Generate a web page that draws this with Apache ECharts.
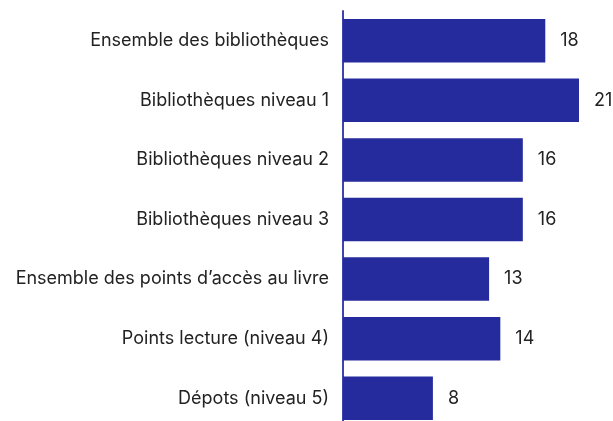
<!DOCTYPE html>
<html>
<head>
<meta charset="utf-8">
<script src="https://cdn.jsdelivr.net/npm/echarts@6/dist/echarts.min.js"></script>
<style>
  html, body { margin: 0; padding: 0; background: #fff; }
  #chart { width: 613px; height: 421px; }
</style>
</head>
<body>
<div id="chart"></div>
<script>
// categories top to bottom
const categories = [
  "Ensemble des bibliothèques",
  "Bibliothèques niveau 1",
  "Bibliothèques niveau 2",
  "Bibliothèques niveau 3",
  "Ensemble des points d’accès au livre",
  "Points lecture (niveau 4)",
  "Dépots (niveau 5)"
];
const values = [18, 21, 16, 16, 13, 14, 8];

const chart = echarts.init(document.getElementById("chart"));
chart.setOption({
  animation: false,
  grid: { left: 343, top: 11, width: 236, height: 417, outerBoundsMode: "none", containLabel: false },
  xAxis: {
    type: "value",
    min: 0,
    max: 21,
    show: false
  },
  yAxis: {
    type: "category",
    inverse: true,
    data: categories,
    axisLine: { show: true, lineStyle: { color: "#3d45ab", width: 2 } },
    axisTick: { show: false },
    axisLabel: {
      margin: 14,
      color: "#222",
      fontSize: 18,
      fontFamily: "Inter"
    }
  },
  series: [{
    type: "bar",
    data: values,
    barCategoryGap: "27%",
    itemStyle: { color: "#252a9d" },
    label: {
      show: true,
      position: "right",
      distance: 15,
      color: "#222",
      fontSize: 18,
      fontFamily: "Inter"
    }
  }]
});
</script>
</body>
</html>
